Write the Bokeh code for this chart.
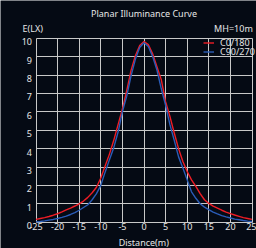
from bokeh.plotting import figure
from bokeh.models import Label, FixedTicker, Legend, LegendItem, Range1d
from bokeh.embed import file_html
from bokeh.resources import INLINE

# ---- data ----
distance = list(range(-25, 26))
c0_180 = [0.15, 0.20, 0.25, 0.31, 0.38, 0.46, 0.56, 0.67, 0.77, 0.88,
          1.00, 1.15, 1.35, 1.60, 1.90, 2.40, 3.05, 3.70, 4.45, 5.30,
          6.15, 7.15, 8.25, 9.05, 9.60, 9.82, 9.65, 9.15, 8.45, 7.75,
          6.55, 5.75, 4.85, 4.00, 3.30, 2.75, 2.30, 1.95, 1.55, 1.22,
          1.02, 0.87, 0.76, 0.65, 0.55, 0.47, 0.39, 0.32, 0.25, 0.20, 0.15]
c90_270 = [0.02, 0.04, 0.07, 0.11, 0.15, 0.20, 0.26, 0.33, 0.42, 0.52,
           0.65, 0.80, 0.95, 1.22, 1.55, 2.00, 2.72, 3.40, 4.05, 4.90,
           6.00, 6.85, 7.95, 8.85, 9.50, 9.75, 9.55, 9.00, 8.27, 7.25,
           6.35, 5.30, 4.45, 3.55, 2.95, 2.30, 1.65, 1.30, 1.00, 0.82,
           0.68, 0.55, 0.45, 0.36, 0.29, 0.23, 0.17, 0.13, 0.09, 0.06, 0.04]
x_ticks = [-25, -20, -15, -10, -5, 0, 5, 10, 15, 20, 25]
x_tick_labels = ["-25", "-20", "-15", "-10", "-5", "0", "5", "10", "15", "20", "25"]
y_ticks = list(range(0, 11))
series_names = ["C0/180", "C90/270"]
title_text = "Planar Illuminance Curve"
y_title = "E(LX)"
x_title = "Distance(m)"
note_text = "MH=10m"

BG = "#050a14"
TXT = "#e6e6e6"
FONT = "Noto Sans"
FS = "9px"

W, H = 256, 248
PX_X = 4.32     # pixels per metre
PX_Y = 18.4     # pixels per lux
X0_PX = 143.5   # pixel column of x = 0
Y0_PX = 221.7   # pixel row of y = 0
Y_LABEL_DROP = 3.4  # y tick labels sit a little below their grid lines

y_start, y_end = (Y0_PX - H) / PX_Y, Y0_PX / PX_Y
p = figure(width=W, height=H,
           x_range=(-X0_PX / PX_X, (W - X0_PX) / PX_X),
           y_range=(y_start, y_end),
           output_backend="svg", toolbar_location=None,
           min_border=0)
p.background_fill_color = BG
p.border_fill_color = BG
p.outline_line_color = None

drop = Y_LABEL_DROP / PX_Y
p.extra_y_ranges = {"labels": Range1d(start=y_start + drop, end=y_end + drop)}

xa, ya = p.xaxis[0], p.yaxis[0]
ya.y_range_name = "labels"
xa.fixed_location = 0
ya.fixed_location = -25
for ax in (xa, ya):
    ax.axis_line_color = None
    ax.major_tick_line_color = None
    ax.minor_tick_line_color = None
    ax.major_tick_out = 0
    ax.major_tick_in = 0
    ax.major_label_text_color = TXT
    ax.major_label_text_font = FONT
    ax.major_label_text_font_size = FS

xa.ticker = FixedTicker(ticks=x_ticks)
xa.major_label_overrides = {t: s for t, s in zip(x_ticks, x_tick_labels)}
xa.major_label_standoff = 1
ya.ticker = FixedTicker(ticks=y_ticks)
ya.major_label_standoff = 4

xg, yg = p.xgrid[0], p.ygrid[0]
xg.ticker = FixedTicker(ticks=x_ticks)
yg.ticker = FixedTicker(ticks=y_ticks)
xg.bounds = (-25, 25)
xg.cross_bounds = (0, 10)
yg.bounds = (0, 10)
yg.cross_bounds = (-25, 25)
for g in (xg, yg):
    g.grid_line_color = "#c8c8c8"
    g.grid_line_width = 1

r1 = p.line(distance, c0_180, line_color="#ee1c25", line_width=1.4)
r2 = p.line(distance, c90_270, line_color="#2a5cb8", line_width=1.4)

# one single-row legend per series, so each row sits exactly where wanted
ROW_H = 13
for name, r, row_center in ((series_names[0], r1, 42.0), (series_names[1], r2, 51.0)):
    lg = Legend(items=[LegendItem(label=name, renderers=[r])],
                location=(203, H - (row_center + ROW_H / 2)),
                margin=0, padding=0, spacing=0,
                glyph_width=11, glyph_height=ROW_H, label_height=ROW_H,
                label_standoff=6, label_text_font_size=FS,
                label_text_font=FONT, label_text_color=TXT,
                background_fill_alpha=0, border_line_alpha=0)
    p.add_layout(lg)

def lab(px, py, text, align):
    p.add_layout(Label(x=(px - X0_PX) / PX_X, y=(Y0_PX - py) / PX_Y,
                       text=text, text_align=align,
                       text_baseline="middle", text_color=TXT,
                       text_font=FONT, text_font_size=FS))

lab(143.5, 13, title_text, "center")
lab(22, 27.5, y_title, "left")
lab(252.3, 27.5, note_text, "right")
lab(143.3, 241.5, x_title, "center")

open("out.html", "w").write(file_html(p, INLINE))
